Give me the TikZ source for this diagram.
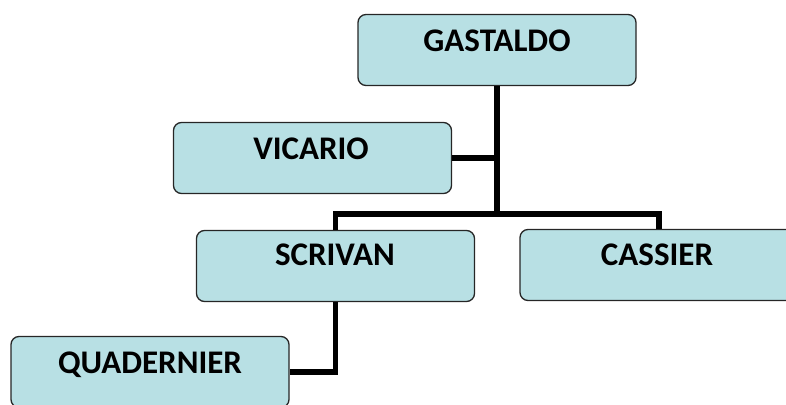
\documentclass[tikz,border=0pt]{standalone}
\usepackage{fontspec}
\setmainfont{Carlito}
\definecolor{boxfill}{RGB}{184,224,228}
\begin{document}
\begin{tikzpicture}[x=1pt,y=-1pt,
  orgbox/.style={draw=black!85,line width=1.3pt,fill=boxfill,rounded corners=8pt,minimum width=278pt,minimum height=71pt,inner sep=0pt},
  lbl/.style={anchor=base,font=\fontsize{33}{38}\selectfont\bfseries,inner sep=0pt},
  conn/.style={line width=5.5pt,black}]
\useasboundingbox (0,0) rectangle (786,404);
\clip (0,0) rectangle (786,404);
\node[orgbox] (G) at (497,50) {};
\node[orgbox] (V) at (312.5,158) {};
\node[orgbox] (S) at (335.5,266) {};
\node[orgbox] (C) at (659,265) {};
\node[orgbox] (Q) at (150,372) {};
\node[lbl] (tG) at (497,52) {GASTALDO};
\node[lbl] (tV) at (311,159) {VICARIO};
\node[lbl] (tS) at (335,265) {SCRIVAN};
\node[lbl] (tC) at (657,265) {CASSIER};
\node[lbl] (tQ) at (150,373) {QUADERNIER};
\coordinate (j) at (497,214);
\draw[conn] (G.south) -- (j);
\draw[conn] (V.east) -- (V.east -| G.south);
\draw[conn] (S.north) |- (j) -| (C.north);
\draw[conn] (S.south) |- (Q.east);
\end{tikzpicture}
\end{document}
